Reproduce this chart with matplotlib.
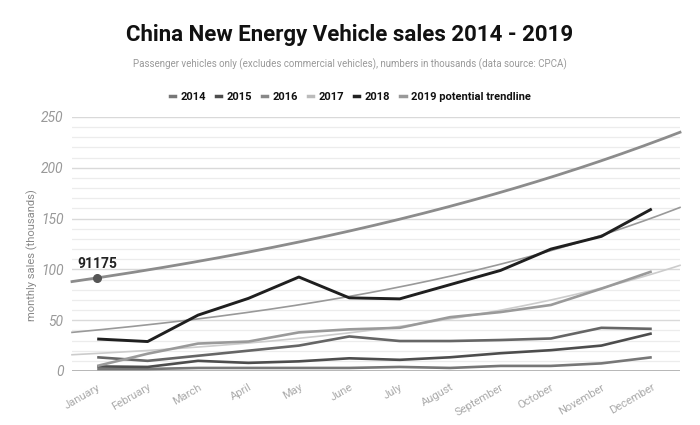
import numpy as np
import matplotlib
matplotlib.use("Agg")
import matplotlib.pyplot as plt
from matplotlib.lines import Line2D

months = ["January", "February", "March", "April", "May", "June", "July",
          "August", "September", "October", "November", "December"]
sales_2014 = [2, 2, 3, 3, 3, 3, 4, 3, 5, 5, 7.5, 13.5]
sales_2015 = [4.5, 4, 10, 8, 9.5, 12.5, 11, 13.5, 17.5, 20.5, 25, 37]
sales_2016 = [13.5, 10, 15, 20, 25, 34, 29.5, 29.5, 30.5, 32, 42.5, 41.5]
sales_2017 = [5, 17, 27, 29, 38, 41, 42.5, 53, 58, 65, 81, 98]
sales_2018 = [31.5, 29, 55, 71.5, 92.5, 72, 71, 85, 99, 120, 132.5, 159.5]
point_2019 = 91.175
trend_2019_ends = [88, 235]
trend_2018_ends = [38, 161]
trend_2017_ends = [16, 104]
y_ticks = [0, 50, 100, 150, 200, 250]

FONT = "Roboto"
fig = plt.figure(figsize=(7, 4.25), dpi=100)
fig.patch.set_facecolor("white")
ax = fig.add_axes([72/700, 1-371/425, (680-72)/700, (371-117)/425])
ax.set_facecolor("white")

x = np.arange(12)
x0, x1 = -0.5, 11.56
ax.set_xlim(x0, x1)
ax.set_ylim(0, 250)

# gridlines
for v in range(10, 250, 10):
    if v % 50:
        ax.axhline(v, color="#ececec", lw=0.9, zorder=0)
for v in y_ticks[1:]:
    ax.axhline(v, color="#d9d9d9", lw=1.0, zorder=0)
ax.axhline(0, color="#aaaaaa", lw=1.2, zorder=1)

def exp_trend(ends):
    xs = np.linspace(x0, x1, 200)
    a, b = ends
    return xs, a * (b / a) ** ((xs - x0) / (x1 - x0))

xs, ys = exp_trend(trend_2017_ends)
ax.plot(xs, ys, color="#cccccc", lw=1.2, zorder=2, clip_on=False)
xs, ys = exp_trend(trend_2018_ends)
ax.plot(xs, ys, color="#999999", lw=1.2, zorder=2, clip_on=False)
xs, ys = exp_trend(trend_2019_ends)
ax.plot(xs, ys, color="#8c8c8c", lw=2.0, zorder=3, clip_on=False)

ax.plot(x, sales_2014, color="#777777", lw=1.9, zorder=4, clip_on=False, solid_capstyle="butt")
ax.plot(x, sales_2015, color="#4d4d4d", lw=1.9, zorder=4, clip_on=False, solid_capstyle="butt")
ax.plot(x, sales_2016, color="#666666", lw=1.9, zorder=4, clip_on=False, solid_capstyle="butt")
ax.plot(x, sales_2017, color="#9a9a9a", lw=1.9, zorder=4, clip_on=False, solid_capstyle="butt")
ax.plot(x, sales_2018, color="#1f1f1f", lw=2.1, zorder=5, clip_on=False, solid_capstyle="butt")

ax.plot([0], [point_2019], "o", color="#555555", ms=5.5, zorder=6)
ax.text(0, point_2019 + 7, "91175", fontsize=10, fontweight="bold", color="#222222",
        family=FONT, ha="center", va="bottom")

for s in ax.spines.values():
    s.set_visible(False)
ax.set_yticks(y_ticks)
ax.set_yticklabels([str(v) for v in y_ticks], fontsize=10, color="#999999",
                   style="italic", family=FONT)
ax.tick_params(axis="y", length=0, pad=6)
ax.set_xticks(x)
ax.set_xticklabels(months, rotation=30, ha="right", rotation_mode="anchor",
                   fontsize=8, color="#aaaaaa", family=FONT)
ax.tick_params(axis="x", length=0, pad=8)

fig.text(32/700, 1-255/425, "monthly sales (thousands)", rotation=90, fontsize=8,
         color="#888888", family=FONT, ha="center", va="center")

fig.text(0.5, 1-35/425, "China New Energy Vehicle sales 2014 - 2019", fontsize=16,
         fontweight="bold", color="#111111", family=FONT, ha="center", va="center")
fig.text(0.5, 1-64/425,
         "Passenger vehicles only (excludes commercial vehicles), numbers in thousands (data source: CPCA)",
         fontsize=7, color="#999999", family=FONT, ha="center", va="center")

# legend
leg_items = [("2014", "#777777"), ("2015", "#4d4d4d"), ("2016", "#888888"),
             ("2017", "#bbbbbb"), ("2018", "#222222"), ("2019 potential trendline", "#999999")]
handles = [Line2D([0], [0], color=c, lw=2.5) for _, c in leg_items]
leg = fig.legend(handles, [l for l, _ in leg_items], loc="center",
                 bbox_to_anchor=(0.5, 1-97/425), ncol=6, frameon=False,
                 handlelength=0.5, handletextpad=0.45, columnspacing=0.9,
                 prop={"family": FONT, "weight": "bold", "size": 8})
for t in leg.get_texts():
    t.set_color("#111111")

fig.savefig("out.png", dpi=100, facecolor="white")
